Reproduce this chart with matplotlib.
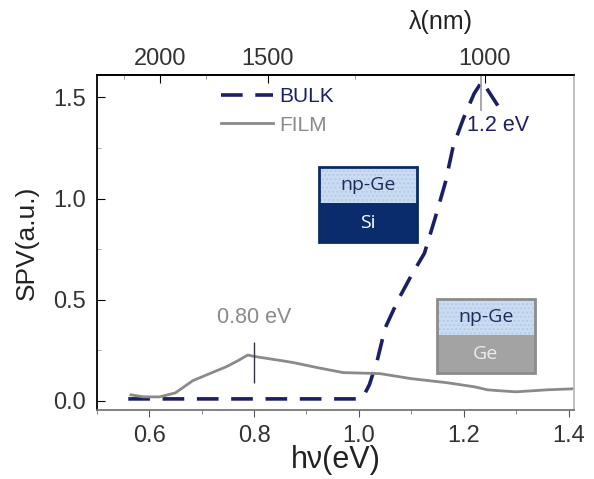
import numpy as np
import matplotlib.pyplot as plt
from matplotlib.patches import Rectangle

plt.rcParams['font.family'] = ['Liberation Sans', 'DejaVu Sans']

# BULK 曲线 (hv 单位 eV)
bulk_x = [0.56, 0.65, 0.75, 0.85, 0.95, 1.0, 1.01, 1.02, 1.035, 1.05, 1.075, 1.10,
          1.125, 1.145, 1.165, 1.18, 1.20, 1.22, 1.235, 1.25, 1.265]
bulk_y = [0.01, 0.01, 0.01, 0.01, 0.01, 0.01, 0.03, 0.08, 0.20, 0.36, 0.50, 0.62,
          0.73, 0.90, 1.08, 1.26, 1.40, 1.52, 1.58, 1.52, 1.46]

# FILM 曲线
film_x = [0.565, 0.59, 0.62, 0.65, 0.683, 0.72, 0.748, 0.77, 0.788, 0.80, 0.85, 0.874,
          0.92, 0.97, 1.04, 1.10, 1.168, 1.22, 1.245, 1.27, 1.30, 1.33, 1.36, 1.41]
film_y = [0.03, 0.02, 0.02, 0.04, 0.10, 0.14, 0.17, 0.20, 0.227, 0.22, 0.20, 0.19,
          0.165, 0.14, 0.135, 0.11, 0.09, 0.07, 0.055, 0.05, 0.045, 0.05, 0.055, 0.06]

# 标注
film_peak = (0.80, 0.09, 0.29)     # x, y0, y1
bulk_peak = (1.233, 1.435, 1.61)
top_nm_major = [2000, 1500, 1000]
top_nm_minor = [2250, 1750, 1250]

navy = '#1c1f66'
gray = '#8a8a8a'
tickc = '#333333'

fig = plt.figure(figsize=(5.94, 4.79), dpi=100)
ax = fig.add_axes([0.163, 0.144, 0.803, 0.699])

ax.plot(bulk_x, bulk_y, color=navy, lw=2.6, dashes=(6, 3.5), label='BULK')
ax.plot(film_x, film_y, color=gray, lw=2.0, label='FILM')

ax.vlines(film_peak[0], film_peak[1], film_peak[2], color='#333344', lw=1.0)
ax.vlines(bulk_peak[0], bulk_peak[1], bulk_peak[2], color='#999999', lw=1.2)
ax.text(0.80, 0.41, '0.80 eV', color='#8a8a8a', fontsize=15.5, ha='center', va='center')
ax.text(1.265, 1.36, '1.2 eV', color=navy, fontsize=15.5, ha='center', va='center')

ax.set_xlim(0.5, 1.41)
ax.set_ylim(-0.045, 1.61)
ax.set_xticks([0.6, 0.8, 1.0, 1.2, 1.4])
ax.set_xticks(np.arange(0.5, 1.41, 0.1), minor=True)
ax.set_yticks([0.0, 0.5, 1.0, 1.5])
ax.set_yticks([0.25, 0.75, 1.25], minor=True)
ax.set_xticklabels(['0.6', '0.8', '1.0', '1.2', '1.4'])
ax.set_yticklabels(['0.0', '0.5', '1.0', '1.5'])
ax.tick_params(axis='x', which='major', direction='out', length=5, labelsize=17, pad=6,
               color='#555555', labelcolor=tickc)
ax.tick_params(axis='x', which='minor', direction='out', length=3, color='#777777')
ax.tick_params(axis='y', which='major', direction='in', length=6, labelsize=17, pad=8,
               labelcolor=tickc)
ax.tick_params(axis='y', which='minor', direction='in', length=3, color='#999999')

ax.spines['right'].set_color('#bbbbbb')
ax.spines['bottom'].set_color('#777777')
for s in ax.spines.values():
    s.set_linewidth(1.3)

ax.set_xlabel('hν(eV)', fontsize=22, color='#222222')
ax.xaxis.set_label_coords(0.5, -0.105)
ax.set_ylabel('SPV(a.u.)', fontsize=19, color='#222222')
ax.yaxis.set_label_coords(-0.122, 0.5)

# 顶部波长轴
sec = ax.secondary_xaxis('top', functions=(lambda e: 1239.84 / e, lambda l: 1239.84 / l))
sec.set_xticks(top_nm_major)
sec.set_xticks(top_nm_minor, minor=True)
sec.set_xticklabels([str(v) for v in top_nm_major])
sec.tick_params(which='major', direction='in', length=6, labelsize=17, pad=4, labelcolor=tickc)
sec.tick_params(which='minor', direction='in', length=3, color='#888888')
sec.spines['top'].set_linewidth(1.3)
ax.text(0.721, 1.16, 'λ(nm)', transform=ax.transAxes, fontsize=18, ha='center', va='center',
        color='#222222')

leg = ax.legend(loc='upper left', bbox_to_anchor=(0.22, 1.02), frameon=False,
                fontsize=15, handlelength=2.5, handletextpad=0.3, labelspacing=0.45)
leg.get_texts()[0].set_color(navy)
leg.get_texts()[1].set_color(gray)


def stack(x0, x1, y0, ym, y1, label, fill, txtc, edge):
    tr = ax.transAxes
    ax.add_patch(Rectangle((x0, ym), x1 - x0, y1 - ym, transform=tr, facecolor='#c9dcf2',
                           edgecolor='#b3cbe8', hatch='....', lw=0, zorder=5))
    ax.add_patch(Rectangle((x0, y0), x1 - x0, ym - y0, transform=tr, facecolor=fill,
                           lw=0, zorder=5))
    ax.add_patch(Rectangle((x0, y0), x1 - x0, y1 - y0, transform=tr, facecolor='none',
                           edgecolor=edge, lw=2, zorder=6))
    ax.text((x0 + x1) / 2, (ym + y1) / 2, 'np-Ge', transform=tr, ha='center', va='center',
            fontsize=14, color='#1e2b5a', family=['Open Sans', 'DejaVu Sans'], zorder=7)
    ax.text((x0 + x1) / 2, (y0 + ym) / 2, label, transform=tr, ha='center', va='center',
            fontsize=14, color=txtc, family=['Open Sans', 'DejaVu Sans'], zorder=7)


stack(0.465, 0.671, 0.501, 0.618, 0.725, 'Si', '#0b2c6c', 'white', '#0a2a64')
stack(0.713, 0.918, 0.110, 0.224, 0.331, 'Ge', '#a3a3a3', '#ececec', '#8c8c8c')

fig.savefig('out.png', dpi=100)
